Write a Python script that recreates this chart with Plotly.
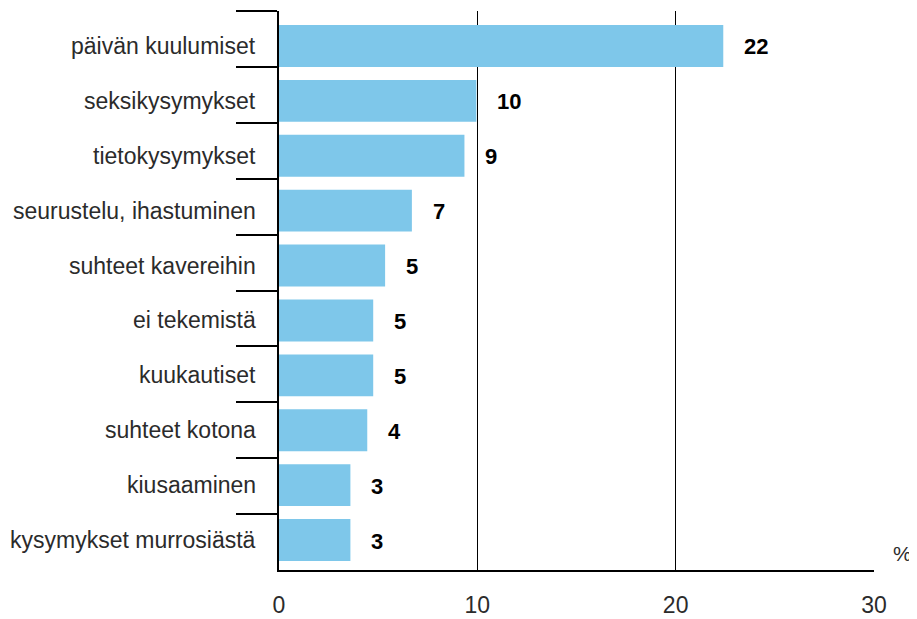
import plotly.graph_objects as go

# data
categories = [
    "päivän kuulumiset",
    "seksikysymykset",
    "tietokysymykset",
    "seurustelu, ihastuminen",
    "suhteet kavereihin",
    "ei tekemistä",
    "kuukautiset",
    "suhteet kotona",
    "kiusaaminen",
    "kysymykset murrosiästä",
]
values = [22.4, 9.95, 9.35, 6.7, 5.35, 4.75, 4.75, 4.45, 3.6, 3.6]
labels = ["22", "10", "9", "7", "5", "5", "5", "4", "3", "3"]
x_ticks = [0, 10, 20, 30]

FONT = "Liberation Sans"
TEXT_COLOR = "#2b2b2b"
BAR_COLOR = "#7EC7EA"

# in the original the bars sit a bit below the category centre and
# their pitch is slightly tighter than the tick spacing
ROW_PX = 559 / len(categories)
BAR_W = 0.75
shift_px = [7.0 - 1.0 * i for i in range(len(categories))]
offsets = [-BAR_W / 2 + s / ROW_PX for s in shift_px]

fig = go.Figure(go.Bar(
    x=values,
    y=categories,
    orientation="h",
    width=BAR_W,
    offset=offsets,
    marker=dict(color=BAR_COLOR, line=dict(width=0)),
    hoverinfo="skip",
))

annotations = []
for v, c, lab, s in zip(values, categories, labels, shift_px):
    # category name on the left
    annotations.append(dict(
        x=0, xref="paper", y=c, text=c, showarrow=False,
        xanchor="right", xshift=-21, yshift=-s,
        font=dict(family=FONT, size=23, color=TEXT_COLOR)))
    # value to the right of the bar
    annotations.append(dict(
        x=v, y=c, text="<b>%s</b>" % lab, showarrow=False,
        xanchor="left", xshift=19, yshift=-s - 1,
        font=dict(family=FONT, size=22, color="black")))

annotations.append(dict(
    x=1.028, y=0.03, xref="paper", yref="paper", text="%",
    showarrow=False, xanchor="left", yanchor="middle",
    font=dict(family=FONT, size=21, color=TEXT_COLOR)))

# the page body adds 8px, so the figure is 8px smaller than the window
fig.update_layout(
    width=909, height=611,
    margin=dict(l=271, r=43, t=3, b=49),
    plot_bgcolor="white",
    paper_bgcolor="white",
    showlegend=False,
    annotations=annotations,
    xaxis=dict(
        range=[0, 30],
        tickvals=x_ticks,
        showgrid=True, gridcolor="black", gridwidth=1,
        zeroline=False,
        showline=True, linecolor="black", linewidth=2,
        ticks="", ticklabelstandoff=13,
        tickfont=dict(family=FONT, size=23, color=TEXT_COLOR),
        automargin=False,
        fixedrange=True,
    ),
    yaxis=dict(
        autorange="reversed",
        showgrid=False, zeroline=False,
        showline=True, linecolor="black", linewidth=2,
        ticks="outside", tickson="boundaries", ticklen=41,
        tickcolor="black", tickwidth=1.5,
        showticklabels=False,
        automargin=False,
        fixedrange=True,
    ),
)

fig.write_html("out.html")
